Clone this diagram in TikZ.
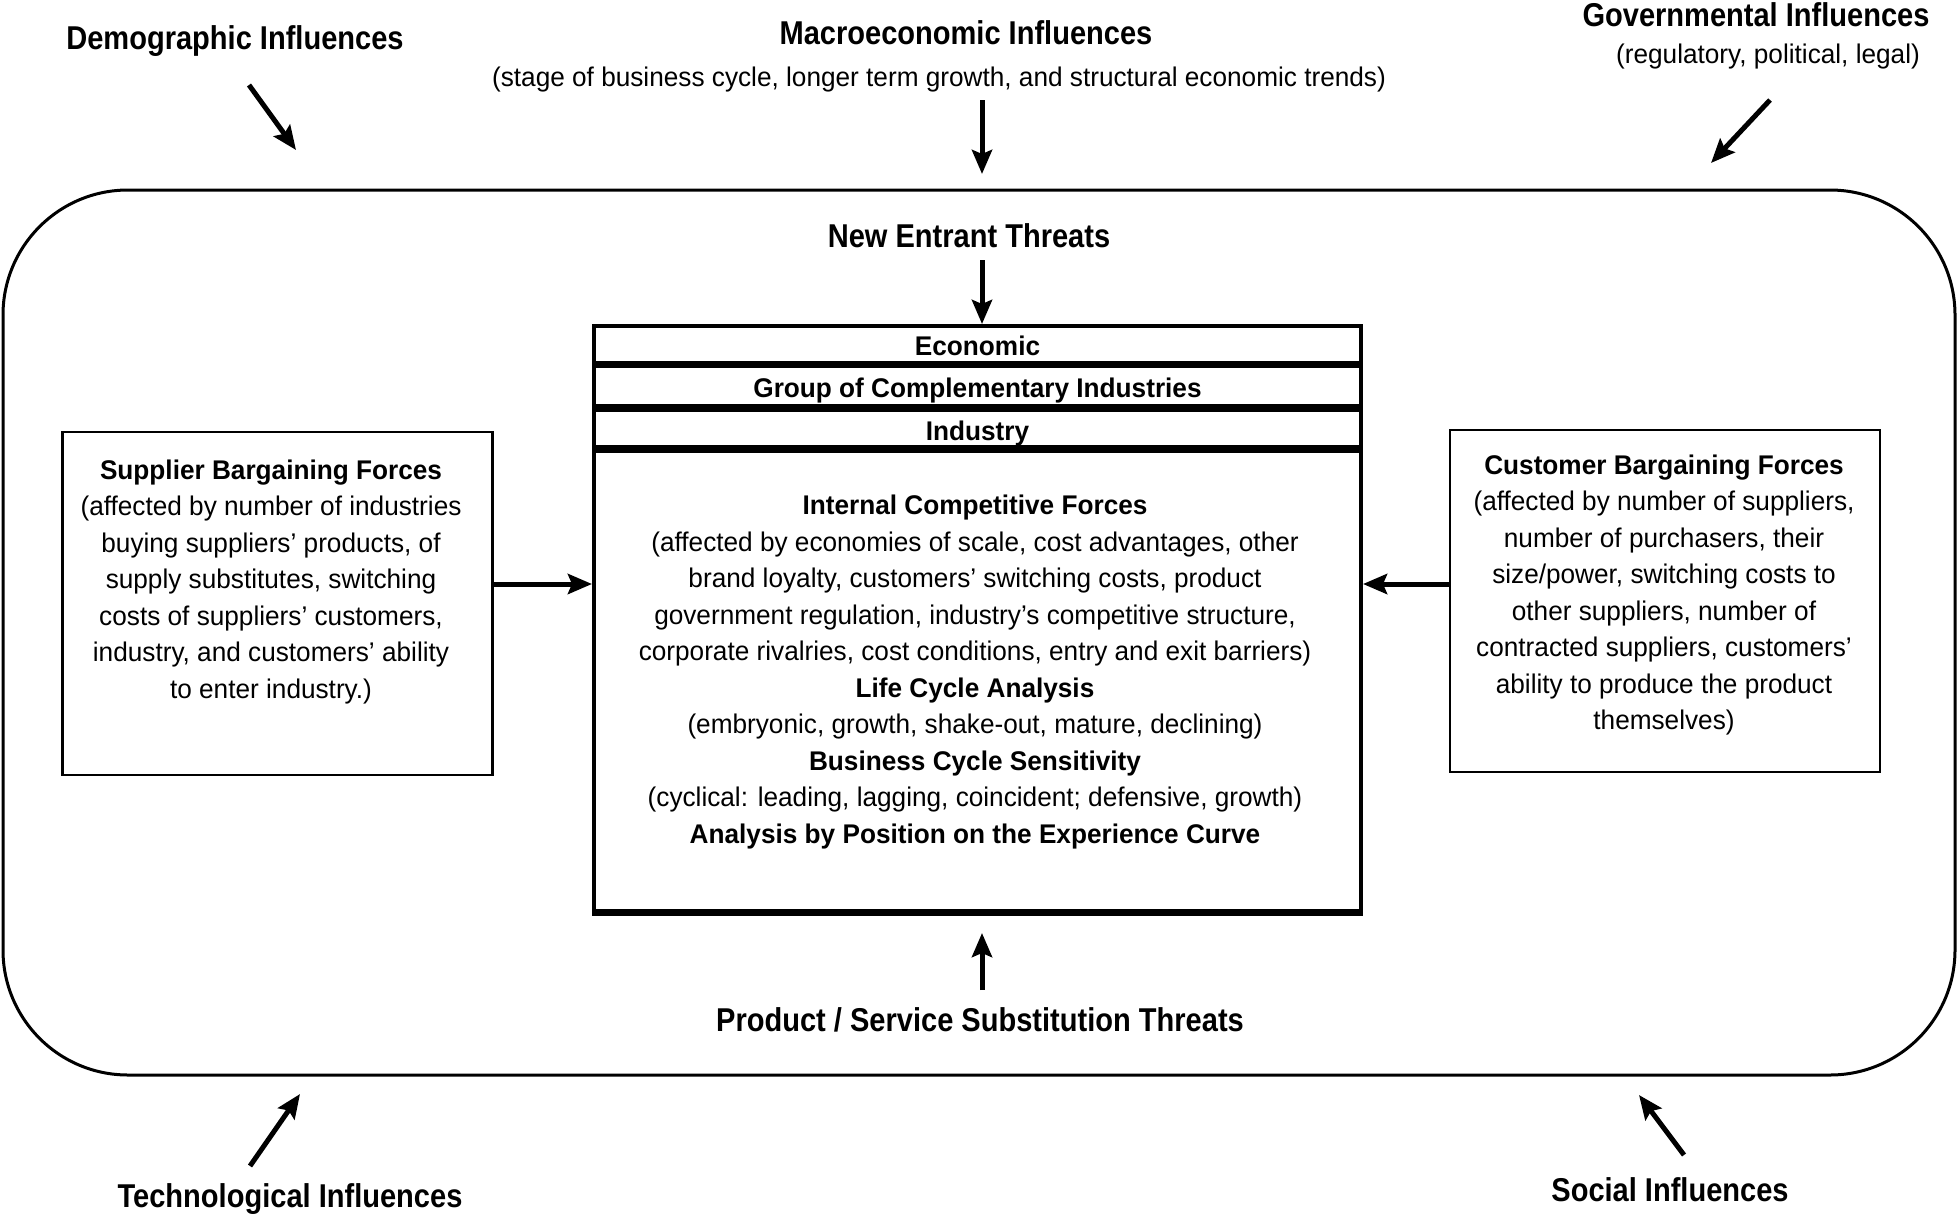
\documentclass[tikz,border=0pt]{standalone}
\usepackage{fontspec}
\setmainfont{Liberation Sans}[FakeStretch=0.97]
\newfontfamily\lblfont{Liberation Sans}[FakeStretch=0.88]
\usetikzlibrary{arrows.meta}
\begin{document}
\begin{tikzpicture}[x=1pt,y=-1pt,
  arr/.style={line width=5pt,-{Stealth[length=24pt,width=20pt,inset=4pt]}},
  outerlbl/.style={font=\lblfont\fontsize{33}{36}\selectfont\bfseries,inner sep=0pt},
  sublbl/.style={font=\fontsize{27}{30}\selectfont,inner sep=0pt},
  boxtext/.style={font=\fontsize{27}{36.5}\selectfont,align=center,inner sep=0pt},
  sidebox/.style={draw,line width=2.5pt,minimum width=430pt,inner sep=0pt},
  bandbox/.style={draw,line width=4pt,minimum width=767pt,inner sep=0pt},
  bandtext/.style={inner sep=0pt,font=\fontsize{27}{30}\selectfont\bfseries},
  ]
\useasboundingbox (0,0) rectangle (1960,1213);
% outer rounded frame
\draw[line width=3pt,rounded corners=125pt] (3,190) rectangle (1955,1075);

% outer labels
\node[outerlbl] (demo) at (235,41) {Demographic Influences};
\node[outerlbl] (macro) at (966,33) {Macroeconomic Influences};
\node[sublbl] (macrosub) at (939,80) {(stage of business cycle, longer term growth, and structural economic trends)};
\node[outerlbl] (gov) at (1756,15) {Governmental Influences};
\node[sublbl] (govsub) at (1768,57) {(regulatory, political, legal)};
\node[outerlbl] (tech) at (290,1199) {Technological Influences};
\node[outerlbl] (soc) at (1670,1190) {Social Influences};
\node[outerlbl] (ne) at (969,236) {New Entrant Threats};
\node[outerlbl] (ps) at (980,1020) {Product / Service Substitution Threats};

% central stack
\node[bandbox,minimum height=37pt] (b1) at (977.5,344.5) {};
\node[bandbox,minimum height=40pt] (b2) at (977.5,386) {};
\node[bandbox,minimum height=37pt] (b3) at (977.5,428.5) {};
\node[bandtext] (b1t) at ([yshift=-1pt]b1.center) {Economic};
\node[bandtext] (b2t) at ([yshift=-5pt]b2.center) {Group of Complementary Industries};
\node[bandtext] (b3t) at ([yshift=-5pt]b3.center) {Industry};
\node[draw,line width=4pt,minimum width=767pt,minimum height=460pt,inner sep=0pt] (main) at (977.5,681) {};
\draw[line width=6pt] (main.south west) -- (main.south east);
\node[boxtext] (mtext) at (975,672) {\textbf{Internal Competitive Forces}\\
(affected by economies of scale, cost advantages, other\\
brand loyalty, customers’ switching costs, product\\
government regulation, industry’s competitive structure,\\
corporate rivalries, cost conditions, entry and exit barriers)\\
\textbf{Life Cycle Analysis}\\
(embryonic, growth, shake-out, mature, declining)\\
\textbf{Business Cycle Sensitivity}\\
(cyclical: leading, lagging, coincident; defensive, growth)\\
\textbf{Analysis by Position on the Experience Curve}};

% side boxes
\node[sidebox,minimum height=343pt] (sup) at (277.5,603.5) {};
\node[boxtext] (suptext) at (271,582) {\textbf{Supplier Bargaining Forces}\\
(affected by number of industries\\
buying suppliers’ products, of\\
supply substitutes, switching\\
costs of suppliers’ customers,\\
industry, and customers’ ability\\
to enter industry.)};
\node[sidebox,minimum height=342pt] (cus) at (1665,601) {};
\node[boxtext] (custext) at (1664,595) {\textbf{Customer Bargaining Forces}\\
(affected by number of suppliers,\\
number of purchasers, their\\
size/power, switching costs to\\
other suppliers, number of\\
contracted suppliers, customers’\\
ability to produce the product\\
themselves)};

% arrows
\coordinate (demoA) at (249,85);   \coordinate (demoB) at (296,150);
\coordinate (macroA) at (982,100); \coordinate (macroB) at (982,174);
\coordinate (govA) at (1770,100);  \coordinate (govB) at (1711,163);
\coordinate (techA) at (250,1166); \coordinate (techB) at (300,1094);
\coordinate (socA) at (1684,1155); \coordinate (socB) at (1639,1095);
\coordinate (neA) at (982,260);
\coordinate (psA) at (982,990);
\draw[arr] (demoA) -- (demoB);
\draw[arr] (macroA) -- (macroB);
\draw[arr] (govA) -- (govB);
\draw[arr] (techA) -- (techB);
\draw[arr] (socA) -- (socB);
\draw[arr] (neA) -- (neA |- b1.north);
\draw[arr] (psA) -- ([yshift=-20pt]psA |- main.south);
\draw[arr] (sup.east |- 0,584) -- (main.west |- 0,584);
\draw[arr] (cus.west |- 0,584) -- (main.east |- 0,584);
\end{tikzpicture}
\end{document}
